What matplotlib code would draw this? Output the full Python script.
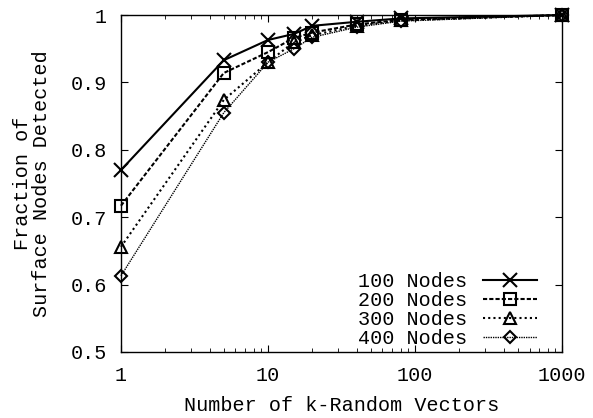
import matplotlib
matplotlib.use("Agg")
import matplotlib.pyplot as plt
from matplotlib.ticker import FixedLocator, LogLocator, NullFormatter

plt.rcParams['font.family'] = ['Liberation Mono', 'DejaVu Sans Mono']

# k random vectors used
k = [1, 5, 10, 15, 20, 40, 80, 1000]

# fraction of surface nodes found, per network size
nodes100 = [0.770, 0.933, 0.963, 0.972, 0.984, 0.990, 0.995, 1.000]
nodes200 = [0.717, 0.914, 0.945, 0.966, 0.974, 0.986, 0.993, 1.000]
nodes300 = [0.656, 0.874, 0.930, 0.960, 0.970, 0.984, 0.992, 1.000]
nodes400 = [0.613, 0.855, 0.930, 0.950, 0.967, 0.982, 0.991, 1.000]

labels = ["100 Nodes", "200 Nodes", "300 Nodes", "400 Nodes"]

fs = 14.5

fig = plt.figure(figsize=(5.93, 4.18), dpi=100)
ax = fig.add_axes([0.204, 0.158, 0.744, 0.806])

ax.plot(k, nodes100, color='k', lw=1.5, ls='-', marker='x', ms=10, mew=1.5,
        label=labels[0], clip_on=False, zorder=5)
ax.plot(k, nodes200, color='k', lw=1.5, ls=(0, (2, 1)), marker='s', ms=8.5,
        mfc='none', mew=1.5, label=labels[1], clip_on=False, zorder=4)
ax.plot(k, nodes300, color='k', lw=1.5, ls=(0, (1, 1.5)), marker='^', ms=8.5,
        mfc='none', mew=1.5, label=labels[2], clip_on=False, zorder=3)
ax.plot(k, nodes400, color='k', lw=1.0, ls=(0, (1, 0.7)), marker='D', ms=6,
        mfc='none', mew=1.5, label=labels[3], clip_on=False, zorder=2)

ax.set_xscale('log')
ax.set_xlim(1, 1000)
ax.set_ylim(0.5, 1.0)
ax.xaxis.set_major_locator(FixedLocator([1, 10, 100, 1000]))
ax.set_xticklabels(["1", "10", "100", "1000"])
ax.xaxis.set_minor_locator(LogLocator(base=10, subs=range(2, 10)))
ax.xaxis.set_minor_formatter(NullFormatter())
ax.set_yticks([0.5, 0.6, 0.7, 0.8, 0.9, 1.0])
ax.set_yticklabels(["0.5", "0.6", "0.7", "0.8", "0.9", "1"])

ax.tick_params(which='both', direction='in', top=True, right=True,
               labelsize=fs, pad=10)
ax.tick_params(which='major', length=5)
ax.tick_params(which='minor', length=3)
for s in ax.spines.values():
    s.set_linewidth(1.0)

ax.set_xlabel("Number of k-Random Vectors", fontsize=fs, labelpad=8)
ax.set_ylabel("Fraction of\nSurface Nodes Detected", fontsize=fs,
              labelpad=14, linespacing=1.0)

ax.legend(loc='lower right', bbox_to_anchor=(0.975, -0.03), frameon=False,
          markerfirst=False, fontsize=fs, handlelength=2.7,
          handletextpad=0.75, labelspacing=0.0, borderaxespad=0.4,
          borderpad=0.3)

fig.savefig("out.png", dpi=100)
